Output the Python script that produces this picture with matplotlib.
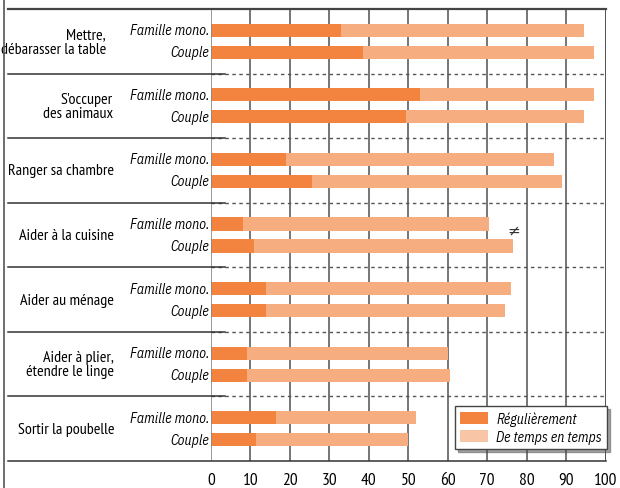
import matplotlib
matplotlib.use("Agg")
import matplotlib.pyplot as plt
import matplotlib.transforms as mtransforms
from matplotlib.patches import Patch
import numpy as np

plt.rcParams['font.family'] = ['PT Sans Narrow', 'DejaVu Sans']
ITAL = ['IBM Plex Sans Condensed', 'PT Sans Narrow', 'DejaVu Sans']

# data (% of children)
activities = ["Mettre,\ndébarasser la table", "S'occuper\ndes animaux", "Ranger sa chambre",
              "Aider à la cuisine", "Aider au ménage", "Aider à plier,\nétendre le linge",
              "Sortir la poubelle"]
subgroups = ["Famille mono.", "Couple"]
# regulierement / total (regulierement + de temps en temps)
mono_regular = [33, 53, 19, 8, 14, 9, 16.5]
mono_total = [94.5, 97, 87, 70.5, 76, 60, 52]
couple_regular = [38.5, 49.5, 25.5, 11, 14, 9, 11.5]
couple_total = [97, 94.5, 89, 76.5, 74.5, 60.5, 50]
xticks = list(range(0, 101, 10))

dark = "#F28440"
light = "#F6AE80"
light_leg = "#F8C6A6"

fig = plt.figure(figsize=(6.2, 4.89), dpi=100)
W, H = 620, 489
ax = fig.add_axes([211 / W, 1 - 462 / H, 394.5 / W, 452 / H])

n = len(activities)
centers = np.arange(n) + 0.5
off = 0.17
bh = 0.205

mono_occ = np.array(mono_total) - np.array(mono_regular)
couple_occ = np.array(couple_total) - np.array(couple_regular)

ax.barh(centers - off, mono_regular, height=bh, color=dark, zorder=3)
ax.barh(centers - off, mono_occ, left=mono_regular, height=bh, color=light, zorder=3)
ax.barh(centers + off, couple_regular, height=bh, color=dark, zorder=3)
ax.barh(centers + off, couple_occ, left=couple_regular, height=bh, color=light, zorder=3)

ax.set_xlim(0, 100)
ax.set_ylim(n, 0)
ax.set_xticks(xticks)
ax.set_xticklabels([str(t) for t in xticks], fontsize=12.5)
ax.tick_params(axis='x', length=0, pad=8)
ax.set_yticks([])
for s in ax.spines.values():
    s.set_visible(False)

for t in xticks[1:-1]:
    ax.axvline(t, color="#6a6a6a", lw=1.3, zorder=1)
ax.axvline(0, color="#888888", lw=1.2, zorder=4)
ax.axvline(100, color="#333333", lw=1.2, zorder=1)

trans = mtransforms.blended_transform_factory(ax.transAxes, ax.transData)
x_left = (8 - 211) / 394.5
x_solid_end = (225 - 211) / 394.5

# separators
for i in range(1, n):
    ax.axhline(i, color="#555555", lw=1.0, ls=(0, (2.5, 2.5)), zorder=2)
    ax.plot([x_left, x_solid_end], [i, i], transform=trans, color="#333333",
            lw=1.1, clip_on=False, zorder=5)
# top and bottom rules
ax.plot([x_left, 1.0], [0, 0], transform=trans, color="#444444", lw=1.6, clip_on=False, zorder=5)
ax.plot([x_left, 1.0], [n, n], transform=trans, color="#333333", lw=1.1, clip_on=False, zorder=5)

# left frame line of the figure
fig.add_artist(plt.Line2D([4 / W, 4 / W], [0, 1], color="#555555", lw=1.2))

# labels
label_x = {0: 106, 1: 113}
for i, lab in enumerate(activities):
    xp = label_x.get(i, 114)
    ax.text((xp - 211) / 394.5, centers[i], lab, transform=trans, ha='right', va='center',
            fontsize=11.5, multialignment='right', linespacing=1.05)
    ax.text((209 - 211) / 394.5, centers[i] - off, subgroups[0], transform=trans,
            ha='right', va='center', fontsize=10, style='italic', family=ITAL)
    ax.text((209 - 211) / 394.5, centers[i] + off, subgroups[1], transform=trans,
            ha='right', va='center', fontsize=10, style='italic', family=ITAL)

# significance mark
ax.text(couple_total[3] + 0.3, centers[3] - 0.08, "≠", ha='center', va='center',
        fontsize=11, color="#333333", zorder=6, family='DejaVu Sans')

handles = [Patch(facecolor=dark, label="Régulièrement"),
           Patch(facecolor=light_leg, label="De temps en temps")]
leg = ax.legend(handles=handles, loc='lower right', bbox_to_anchor=(1.004, 0.027),
                frameon=True, fancybox=False, shadow=True, framealpha=1,
                edgecolor="#444444", prop={'style': 'italic', 'size': 10, 'family': ITAL},
                handlelength=2.0, handleheight=0.9, borderpad=0.35, labelspacing=0.3,
                handletextpad=0.6, borderaxespad=0)
leg.get_frame().set_linewidth(1.0)
leg.set_zorder(10)

fig.savefig("out.png", dpi=100)
